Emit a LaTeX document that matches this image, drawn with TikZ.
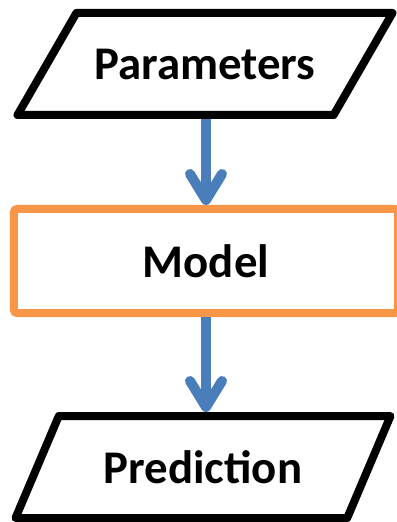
\documentclass[tikz,border=0pt]{standalone}
\usepackage{fontspec}
\setmainfont{Carlito}
\usepackage{tikz}
\usetikzlibrary{shapes.geometric, arrows.meta}
\usetikzlibrary{positioning}
\definecolor{boxorange}{HTML}{F79646}
\definecolor{flowblue}{HTML}{4A7EBB}

\begin{document}
\begin{tikzpicture}[x=1bp, y=-1bp,
    label font/.style={font=\fontsize{47}{56}\selectfont\bfseries},
    io/.style={trapezium, trapezium stretches body, draw=black, line width=8bp,
      line join=round, minimum width=375bp, text height=36bp, text depth=4bp,
      inner ysep=31bp, inner xsep=0pt, label font},
    modelbox/.style={rectangle, draw=boxorange, rounded corners=3bp, line width=8bp,
      minimum width=384bp, minimum height=104bp, inner sep=0pt, label font},
    flow/.style={draw=flowblue, line width=10bp,
      -{Straight Barb[length=26bp, width=32bp, line cap=round, line join=round]}}]
	\useasboundingbox (0,0) rectangle (396,522);

	\node[io, trapezium left angle=60, trapezium right angle=120] (params) at (205,64) {Parameters};
	\node[modelbox] (model) at (206,261) {Model};
	\node[io, trapezium left angle=67, trapezium right angle=113] (pred) at (203,467) {Prediction};

	\draw[flow] (model.north |- params.south) -- (model.north);
	\draw[flow] (model.south) -- (model.south |- pred.north);
\end{tikzpicture}
\end{document}
